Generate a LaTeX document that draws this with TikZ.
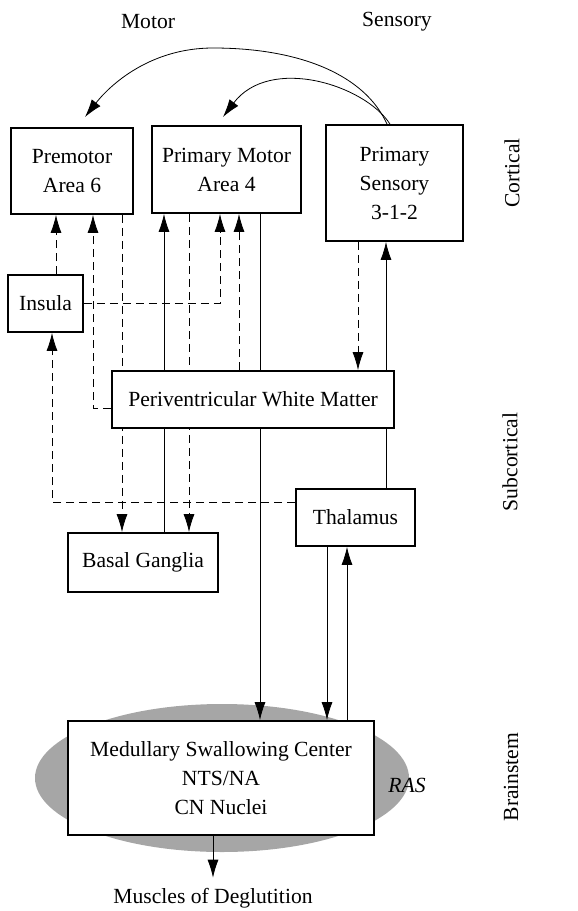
\documentclass[tikz,border=0pt]{standalone}
\usepackage{fontspec}
\setmainfont{Liberation Serif}
\usepackage{tikz}
\usetikzlibrary{arrows.meta,shapes}
\pgfdeclarelayer{back}
\pgfdeclarelayer{wires}
\pgfsetlayers{back,wires,main}
\tikzset{
  box/.style={draw,fill=white,line width=0.9pt,align=center,inner sep=1pt},
  dsh/.style={dash pattern=on 4pt off 2.5pt},
}
\begin{document}
\begin{tikzpicture}[x=0.5pt,y=-0.5pt,>={Latex[length=9pt,width=5.5pt]},line width=1pt,
  font=\fontsize{10.8}{14.5}\selectfont]
\useasboundingbox (0,0) rectangle (578,911);
% column heads and levels
\node (motor) at (148,22) {Motor};
\node (sensory) at (397,22) {Sensory};
\node[rotate=90] (cortical) at (512,173) {Cortical};
\node[rotate=90] (subcortical) at (510,462) {Subcortical};
\node[rotate=90] (brainstem) at (511,777) {Brainstem};
% boxes
\node[box,minimum width=61pt,minimum height=43pt] (pm) at (72,171) {Premotor\\Area 6};
\node[box,minimum width=74.5pt,minimum height=43.5pt] (m1) at (226.5,169.5) {Primary Motor\\Area 4};
\node[box,minimum width=68.5pt,minimum height=58pt] (s1) at (394.5,183) {Primary\\Sensory\\3-1-2};
\node[box,minimum width=37.5pt,minimum height=28.5pt] (ins) at (45.5,303.5) {Insula};
\node[box,minimum width=141pt,minimum height=28.5pt] (pwm) at (253,399.5) {Periventricular White Matter};
\node[box,minimum width=59.5pt,minimum height=28.5pt] (thal) at (355.5,517.5) {Thalamus};
\node[box,minimum width=75pt,minimum height=29.5pt] (bg) at (143,562.5) {Basal Ganglia};
\node[box,minimum width=153pt,minimum height=57pt] (msc) at (221,778) {Medullary Swallowing Center\\NTS/NA\\CN Nuclei};
\begin{pgfonlayer}{back}
\node[ellipse,fill=gray!70!white,minimum width=187pt,minimum height=74pt,inner sep=0pt] (ras) at (222,778) {};
\end{pgfonlayer}
\node (raslbl) at (407,785) {\itshape RAS};
\node[inner ysep=5pt] (mus) at (213,898) {Muscles of Deglutition};
\coordinate (pmin) at (85,117);
\coordinate (m1in) at (223,117);
% sensory to motor
\draw[->] (s1.north -| 387,0) .. controls (365,75) and (300,48) .. (213,48)
  .. controls (150,48) and (110,85) .. (pmin);
\draw[->] (s1.north -| 390,0) .. controls (365,85) and (270,55) .. (m1in);
\begin{pgfonlayer}{wires}
% premotor
\draw[dsh,->] (ins.north -| 56,0) -- (pm.south -| 56,0);
\draw[dsh,->] (pwm.west |- 0,408) -| (pm.south -| 93,0);
\draw[dsh,->] (pm.south -| 122,0) -- (bg.north -| 122,0);
% primary motor
\draw[->] (bg.north -| 164,0) -- (m1.south -| 164,0);
\draw[dsh,->] (m1.south -| 189,0) -- (bg.north -| 189,0);
\draw[dsh,->] (ins.east) -| (m1.south -| 220,0);
\draw[dsh,->] (pwm.north -| 239,0) -- (m1.south -| 239,0);
\draw[->] (m1.south -| 260,0) -- (msc.north -| 260,0);
% sensory
\draw[dsh,->] (s1.south -| 358,0) -- (pwm.north -| 358,0);
\draw[->] (thal.north -| 386,0) -- (s1.south -| 386,0);
\draw[dsh,->] (thal.west |- 0,502) -| (ins.south -| 52,0);
% brainstem
\draw[->] (thal.south -| 327,0) -- (msc.north -| 327,0);
\draw[->] (msc.north -| 347,0) -- (thal.south -| 347,0);
\draw[->] (msc.south -| mus) -- (mus.north);
\end{pgfonlayer}
\end{tikzpicture}
\end{document}
